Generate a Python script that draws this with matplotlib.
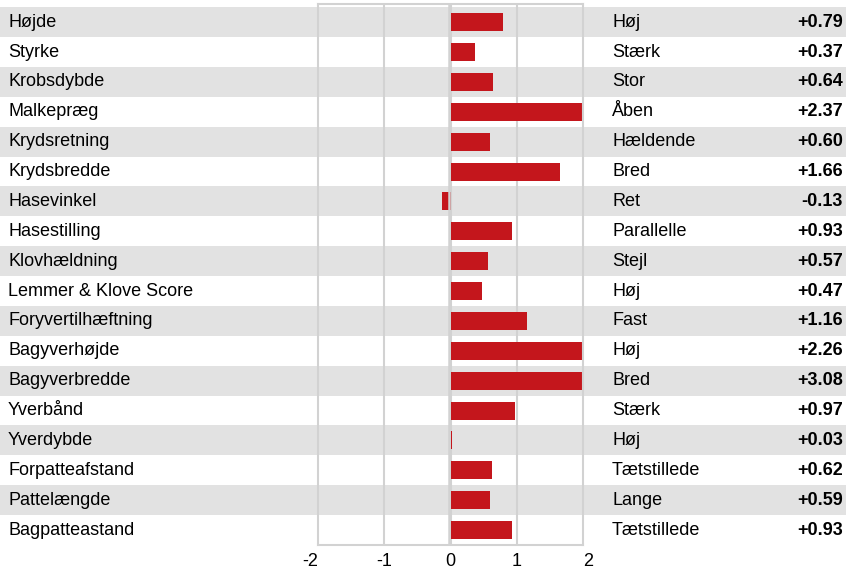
#!/usr/bin/env python3
"""Linear profile chart: trait deviations with alternating row bands."""

import matplotlib
matplotlib.use("Agg")
import matplotlib.pyplot as plt

traits = [
    "Højde", "Styrke", "Krobsdybde", "Malkepræg", "Krydsretning",
    "Krydsbredde", "Hasevinkel", "Hasestilling", "Klovhældning",
    "Lemmer & Klove Score", "Foryvertilhæftning", "Bagyverhøjde",
    "Bagyverbredde", "Yverbånd", "Yverdybde", "Forpatteafstand",
    "Pattelængde", "Bagpatteastand",
]
descriptors = [
    "Høj", "Stærk", "Stor", "Åben", "Hældende", "Bred", "Ret",
    "Parallelle", "Stejl", "Høj", "Fast", "Høj", "Bred", "Stærk",
    "Høj", "Tætstillede", "Lange", "Tætstillede",
]
values = [
    0.79, 0.37, 0.64, 2.37, 0.60, 1.66, -0.13, 0.93, 0.57,
    0.47, 1.16, 2.26, 3.08, 0.97, 0.03, 0.62, 0.59, 0.93,
]
x_ticks = [-2, -1, 0, 1, 2]

W, H = 846, 569
BAR_RED = "#c4161c"
BAND = "#e2e2e2"
GRID = "#d2d2d2"
FONT = "Liberation Sans"
FS = 13

plt.rcParams["font.family"] = [FONT, "DejaVu Sans"]

fig = plt.figure(figsize=(W / 100, H / 100), dpi=100)

n = len(traits)
top_px, bottom_px = 4, 545
pitch = (bottom_px - 7.25) / n
ylim = (n - 0.5, -0.5 - (7.25 - top_px) / pitch)
ax_rect_y = (H - bottom_px) / H
ax_rect_h = (bottom_px - top_px) / H

# background axes spanning the full width: bands and text
bg = fig.add_axes([0, ax_rect_y, 1, ax_rect_h], zorder=0)
bg.set_xlim(0, W)
bg.set_ylim(*ylim)
bg.axis("off")
for i in range(n):
    if i % 2 == 0:
        bg.axhspan(i - 0.5, i + 0.5, color=BAND, lw=0)
    bg.text(8, i, traits[i], fontsize=FS, va="center", ha="left")
    bg.text(612, i, descriptors[i], fontsize=FS, va="center", ha="left")
    bg.text(843, i, f"{values[i]:+.2f}", fontsize=FS, va="center",
            ha="right", fontweight="bold")

# bar axes
left_px, right_px = 318, 583
ax = fig.add_axes([left_px / W, ax_rect_y, (right_px - left_px) / W, ax_rect_h],
                  zorder=1)
ax.patch.set_visible(False)
ax.set_xlim(-2, 2)
ax.set_ylim(*ylim)

for t in x_ticks[1:-1]:
    ax.axvline(t, color=GRID, lw=1.5, zorder=1)
ax.barh(range(n), values, height=0.6, color=BAR_RED, zorder=2)
# zero line sits just left of the bar base, over the bars
ax.axvline(-0.018, color=GRID, lw=1.8, zorder=3)

for s in ax.spines.values():
    s.set_color(GRID)
    s.set_linewidth(1.5)
    s.set_zorder(4)

ax.set_yticks([])
ax.set_xticks(x_ticks)
ax.set_xticklabels([str(t) for t in x_ticks], fontsize=FS)
ax.tick_params(axis="x", length=0, pad=6)
labels = ax.get_xticklabels()
labels[0].set_ha("right")
labels[-1].set_ha("left")

fig.savefig("out.png", dpi=100)
